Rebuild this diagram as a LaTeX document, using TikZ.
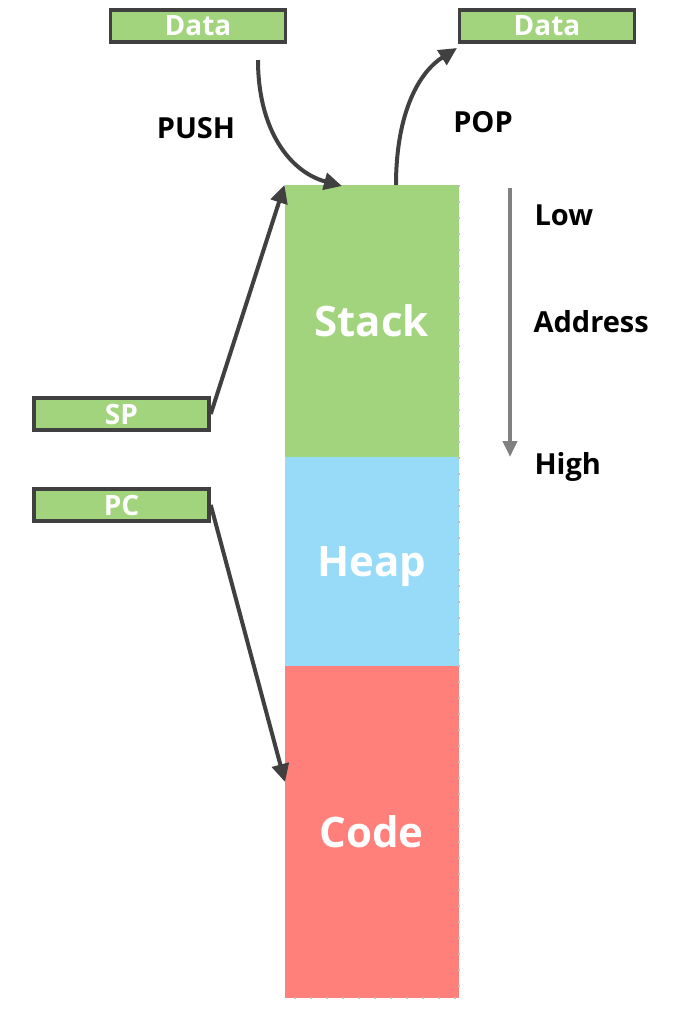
\documentclass[tikz,border=0pt]{standalone}
\usepackage{fontspec}
\setmainfont{Open Sans}
\usetikzlibrary{positioning,arrows.meta}
\definecolor{dgray}{HTML}{404040}
\definecolor{lgreen}{HTML}{A1D47D}
\definecolor{lblue}{HTML}{97DBF9}
\definecolor{lred}{HTML}{FF7F7A}

\begin{document}
\begin{tikzpicture}[x=1pt, y=-1pt,
	reg/.style = {draw=dgray, line width=3.5pt, fill=lgreen, minimum width=175pt, minimum height=32pt, inner sep=0pt, text=white, font=\bfseries\fontsize{28}{28}\selectfont},
	seg/.style = {inner sep=0pt, outer sep=0pt, minimum width=174pt, text=white, text height=30pt, text depth=0pt, font=\bfseries\fontsize{42}{42}\selectfont},
	lbl/.style = {font=\bfseries\fontsize{29}{29}\selectfont},
	arr/.style = {draw=dgray, line width=4pt, -{Triangle[length=18pt,width=17pt]}}]
		\useasboundingbox (0,0) rectangle (686,1013);
		\node[seg, fill=lgreen, minimum height=272pt] (stack) at (371.5,321) {Stack};
		\node[seg, fill=lblue, minimum height=209pt] (heap) [below=0pt of stack] {Heap};
		\node[seg, fill=lred, minimum height=332pt] (code) [below=0pt of heap] {Code};
		\node[reg] (datain) at (198,26) {Data};
		\node[reg] (dataout) at (547,26) {Data};
		\node[reg] (sp) at (121.5,414) {SP};
		\node[reg] (pc) at (121.5,505) {PC};
		\node[lbl] (push) at (196,128) {PUSH};
		\node[lbl] (pop) at (483,122) {POP};
		\node[lbl, anchor=west] (low) at (531,215) {Low};
		\node[lbl, anchor=west] (addr) at (530,322) {Address};
		\node[lbl, anchor=west] (high) at (531,467) {High};
		\coordinate (pushstart) at (258,60);
		\coordinate (pushend) at (342,186);
		\coordinate (popstart) at (396,185);
		\coordinate (popend) at (457,48);
		\coordinate (pcend) at (285,782);
		\coordinate (lowtop) at (510,188);
		\coordinate (highbot) at (510,457);
		% dotted right edge
		\draw[gray!50, line width=2pt, dash pattern=on 2pt off 14pt] (stack.north east) -- (code.south east) -- (code.south west);
		\draw[arr] (pushstart) .. controls (258,130) and (290,172) .. (pushend);
		\draw[arr] (popstart) .. controls (396,120) and (415,75) .. (popend);
		\draw[arr] (sp.east) -- (stack.north west);
		\draw[arr] (pc.east) -- (pcend);
		\draw[gray, line width=4pt, -{Triangle[length=16pt,width=14pt]}] (lowtop) -- (highbot);
	\end{tikzpicture}
\end{document}
